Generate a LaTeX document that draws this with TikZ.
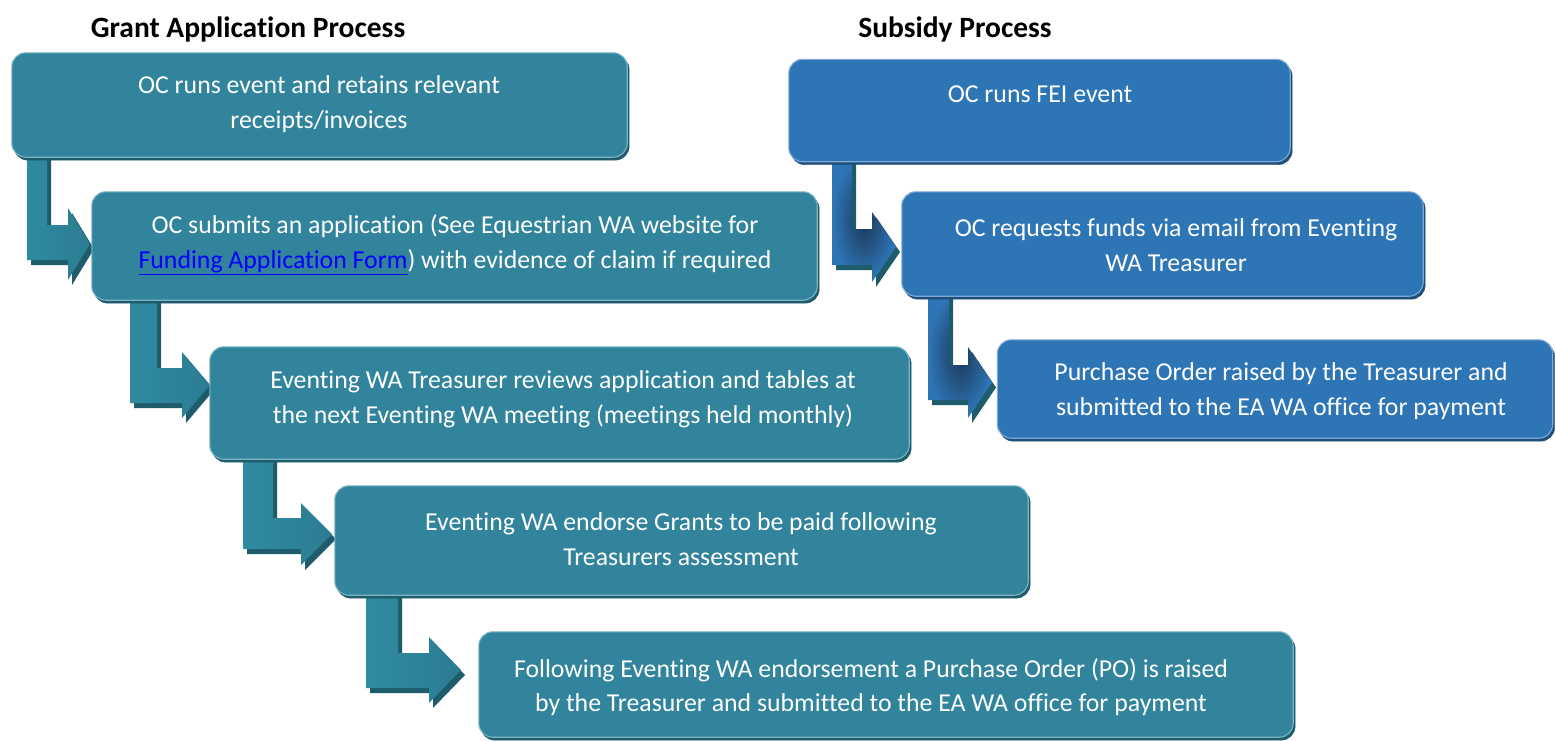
\documentclass[tikz,border=0pt]{standalone}
\usepackage{fontspec}
\setmainfont{Carlito}[Ligatures={NoCommon}]
\usetikzlibrary{calc}
\definecolor{tealbox}{HTML}{31849B}
\definecolor{tealdark}{HTML}{1E5B6B}
\definecolor{tealedge}{HTML}{7DB5C6}
\definecolor{bluebox}{HTML}{2E75B6}
\definecolor{bluedark}{HTML}{1F4E79}
\definecolor{blueedge}{HTML}{7FA9D6}
\definecolor{ga}{HTML}{2F8BA1}
\definecolor{gb}{HTML}{54B4CE}
\definecolor{gc}{HTML}{2C7C92}
\definecolor{sdark}{HTML}{1B3858}
\definecolor{linkblue}{HTML}{0000FF}
\newcommand{\arrowpath}[9]{%
 (#2,0 |- #1t) -- (#3,0 |- #1t) -- (#3,#4) -- (#6,#4) -- (#6,#7) -- (#9,{(#7+#8)/2}) -- (#6,#8) -- (#6,#5) -- (#2,#5) -- cycle}
\tikzset{
 gbox/.style={rounded corners=14pt, fill=tealbox, draw=tealedge, line width=1.1pt, inner sep=0pt,
   preaction={fill=tealdark, draw=tealdark, transform canvas={xshift=2pt,yshift=-3pt}}},
 sbox/.style={rounded corners=14pt, fill=bluebox, draw=blueedge, line width=1.1pt, inner sep=0pt,
   preaction={fill=bluedark, draw=bluedark, transform canvas={xshift=2pt,yshift=-3pt}}},
 btext/.style={text=white, align=center, font=\fontsize{25.8}{34.5}\selectfont, inner sep=0pt},
 ttext/.style={text=black, font=\fontsize{29.5}{34}\selectfont\bfseries, inner sep=0pt},
 garr/.style={left color=ga, middle color=gb, right color=gc},
 sarr/.style={inner color=sdark, outer color=bluebox},
 ashadow/.style={fill=tealdark},
 holder/.style={inner sep=0pt},
}
\begin{document}
\begin{tikzpicture}[x=1pt,y=-1pt]
\useasboundingbox (0,0) rectangle (1555,740);
% titles
\node[ttext] (t1) at (248,29) {Grant Application Process};
\node[ttext] (t2) at (955,29) {Subsidy Process};
% box outlines (named), filled later
\node[holder, minimum width=615pt, minimum height=104pt] (b1) at (319.5,105) {};
\node[holder, minimum width=725pt, minimum height=108pt] (b2) at (454.5,246) {};
\node[holder, minimum width=699pt, minimum height=112pt] (b3) at (559.5,403) {};
\node[holder, minimum width=693pt, minimum height=109pt] (b4) at (681.5,540.5) {};
\node[holder, minimum width=814pt, minimum height=105pt] (b5) at (886,684.5) {};
\node[holder, minimum width=501pt, minimum height=102pt] (s1) at (1039.5,110.5) {};
\node[holder, minimum width=521pt, minimum height=104pt] (s2) at (1162.5,244) {};
\node[holder, minimum width=555pt, minimum height=98pt] (s3) at (1275,389) {};
\foreach \n in {b1,b2,b3,b4,s1,s2} {\coordinate (\n t) at ([yshift=5pt]\n.south);}
% arrows (grant)
\fill[ashadow, shift={(4,5)}] \arrowpath{b1}{27}{47}{225}{260}{68}{208}{280}{90};
\shade[garr] \arrowpath{b1}{27}{47}{225}{260}{68}{208}{280}{90};
\fill[ashadow, shift={(4,5)}] \arrowpath{b2}{130}{157}{368}{403}{182}{352}{418}{210};
\shade[garr] \arrowpath{b2}{130}{157}{368}{403}{182}{352}{418}{210};
\fill[ashadow, shift={(4,5)}] \arrowpath{b3}{243}{273}{518}{549}{301}{503}{565}{332};
\shade[garr] \arrowpath{b3}{243}{273}{518}{549}{301}{503}{565}{332};
\fill[ashadow, shift={(4,5)}] \arrowpath{b4}{366}{398}{653}{688}{429}{637}{703}{461};
\shade[garr] \arrowpath{b4}{366}{398}{653}{688}{429}{637}{703}{461};
% arrows (subsidy)
\fill[ashadow, shift={(4,5)}] \arrowpath{s1}{832}{852}{229}{265}{872}{212}{282}{896};
\shade[sarr] \arrowpath{s1}{832}{852}{229}{265}{872}{212}{282}{896};
\fill[ashadow, shift={(4,5)}] \arrowpath{s2}{928}{949}{365}{400}{968}{347}{418}{992};
\shade[sarr] \arrowpath{s2}{928}{949}{365}{400}{968}{347}{418}{992};
% boxes
\path[gbox] (b1.south west) rectangle (b1.north east);
\path[gbox] (b2.south west) rectangle (b2.north east);
\path[gbox] (b3.south west) rectangle (b3.north east);
\path[gbox] (b4.south west) rectangle (b4.north east);
\path[gbox] (b5.south west) rectangle (b5.north east);
\path[sbox] (s1.south west) rectangle (s1.north east);
\path[sbox] (s2.south west) rectangle (s2.north east);
\path[sbox] (s3.south west) rectangle (s3.north east);
% texts
\node[btext] (x1) at (319,104) {OC runs event and retains relevant\\receipts/invoices};
\node[btext] (x2) at (455,245) {OC submits an application (See Equestrian WA website for\\\textcolor{linkblue}{\underline{Funding Application Form}}) with evidence of claim if required};
\node[btext] (x3) at (563,399) {Eventing WA Treasurer reviews application and tables at\\the next Eventing WA meeting (meetings held monthly)};
\node[btext] (x4) at (681,539) {Eventing WA endorse Grants to be paid following\\Treasurers assessment};
\node[btext] (x5) at (871,687) {Following Eventing WA endorsement a Purchase Order (PO) is raised\\by the Treasurer and submitted to the EA WA office for payment};
\node[btext] (y1) at (1040,94) {OC runs FEI event};
\node[btext] (y2) at (1176,245) {OC requests funds via email from Eventing\\WA Treasurer};
\node[btext] (y3) at (1281,391) {Purchase Order raised by the Treasurer and\\submitted to the EA WA office for payment};
\end{tikzpicture}
\end{document}
